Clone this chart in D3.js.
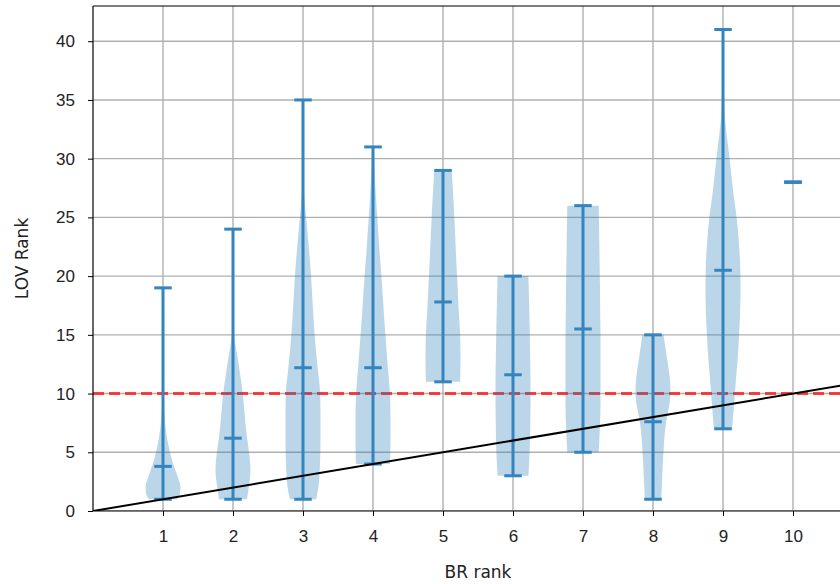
<!DOCTYPE html>
<html>
<head>
<meta charset="utf-8">
<title>LOV Rank vs BR rank</title>
<script src="https://cdn.jsdelivr.net/npm/d3@7"></script>
<style>
  body{margin:0;background:#fff;}
  svg{display:block;font-family:"DejaVu Sans",sans-serif;}
  .tick text{font-size:17px;fill:#222;}
</style>
</head>
<body>
<div id="chart"></div>
<script>
// BR rank positions
var ranks = [1,2,3,4,5,6,7,8,9,10];
// extrema and middle marks of each violin (LOV rank)
var mins = [1, 1, 1, 4, 11, 3, 5, 1, 7, 28];
var maxs = [19, 24, 35, 31, 29, 20, 26, 15, 41, 28];
var mids = [3.8, 6.2, 12.2, 12.2, 17.8, 11.6, 15.5, 7.6, 20.5, 28];
// violin outlines: [LOV rank, half width as share of max]
var shapes = [
  [[1,0.8],[1.5,0.97],[2,1.0],[3,0.82],[4,0.58],[5,0.4],[6,0.26],[7,0.16],[8,0.09],[9,0.05],[10,0.02],[11,0.005],[19,0]],
  [[1,0.8],[2,0.9],[3.5,1.0],[5,0.92],[6.5,0.78],[8,0.68],[10,0.56],[11.5,0.42],[13,0.27],[14.5,0.1],[16,0.02],[18,0.005],[24,0]],
  [[1,0.75],[2,0.88],[4,0.97],[6,1.0],[8,1.0],[10,0.98],[12,0.85],[14,0.72],[16,0.62],[18,0.54],[20,0.46],[22,0.36],[24,0.24],[26,0.12],[28,0.04],[30,0.01],[35,0]],
  [[4,0.97],[6,1.0],[8,1.0],[10,0.97],[12,0.86],[14,0.76],[16,0.66],[18,0.57],[20,0.48],[22,0.38],[24,0.29],[26,0.2],[28,0.12],[30,0.06],[31,0.04]],
  [[11,0.98],[13,1.0],[15,0.98],[17,0.9],[19,0.84],[21,0.77],[23,0.71],[25,0.65],[27,0.58],[29,0.5]],
  [[3,0.88],[5,0.95],[7,0.98],[9,1.0],[11,1.0],[13,0.98],[15,0.96],[17,0.93],[19,0.9],[20,0.88]],
  [[5,0.9],[7,0.96],[9,1.0],[11,1.0],[13,1.0],[15,1.0],[17,0.98],[19,0.97],[21,0.95],[23,0.93],[25,0.91],[26,0.9]],
  [[1,0.47],[2,0.5],[3,0.53],[4,0.56],[5,0.6],[6,0.64],[7,0.7],[8,0.8],[9,0.93],[10,1.0],[11,0.98],[12,0.9],[13,0.8],[14,0.7],[15,0.6]],
  [[7,0.52],[9,0.63],[11,0.73],[13,0.84],[15,0.92],[17,0.98],[19,1.0],[21,0.98],[23,0.9],[25,0.78],[27,0.6],[29,0.45],[31,0.3],[33,0.14],[35,0.06],[37,0.02],[41,0.005]],
  []
];
var yTicks = [0,5,10,15,20,25,30,35,40];
var threshold = 10;

var width = 840, height = 584;
var margin = {top: 6, left: 93, bottom: 73};
var plotH = height - margin.top - margin.bottom;

var x = d3.scaleLinear().domain([0, 11]).range([margin.left, margin.left + 770]);
var y = d3.scaleLinear().domain([0, 43]).range([margin.top + plotH, margin.top]);

var svg = d3.select("#chart").append("svg")
  .attr("width", width)
  .attr("height", height);

svg.append("clipPath").attr("id","clip")
  .append("rect")
  .attr("x", margin.left).attr("y", margin.top)
  .attr("width", 770).attr("height", plotH);

var plot = svg.append("g").attr("clip-path","url(#clip)");

//grid
plot.selectAll(".vgrid").data(ranks).enter().append("line")
  .attr("x1", function(d){return x(d);}).attr("x2", function(d){return x(d);})
  .attr("y1", margin.top).attr("y2", margin.top + plotH)
  .attr("stroke","#b0b0b0").attr("stroke-width",1.4);
plot.selectAll(".hgrid").data(yTicks).enter().append("line")
  .attr("x1", margin.left).attr("x2", margin.left + 770)
  .attr("y1", function(d){return y(d);}).attr("y2", function(d){return y(d);})
  .attr("stroke","#b0b0b0").attr("stroke-width",1.4);

//threshold line
plot.append("line")
  .attr("x1", x(0)).attr("x2", x(11))
  .attr("y1", y(threshold)).attr("y2", y(threshold))
  .attr("stroke","#f22").attr("stroke-opacity",0.85)
  .attr("stroke-width",3).attr("stroke-dasharray","11,5");

//violins
var halfW = x(0.25) - x(0);
var capW = x(0.125) - x(0);
var blue = "#1f77b4";
var lineCol = "#3384bf";

ranks.forEach(function(r, i){
  var g = plot.append("g");
  if (shapes[i].length) {
    var area = d3.area()
      .curve(d3.curveMonotoneY)
      .y(function(d){return y(d[0]);})
      .x0(function(d){return x(r) - d[1]*halfW;})
      .x1(function(d){return x(r) + d[1]*halfW;});
    g.append("path").attr("d", area(shapes[i]))
      .attr("fill", blue).attr("fill-opacity",0.3);
  }
  g.append("line")
    .attr("x1", x(r)).attr("x2", x(r))
    .attr("y1", y(mins[i])).attr("y2", y(maxs[i]))
    .attr("stroke", lineCol).attr("stroke-width",3);
  [mins[i], maxs[i], mids[i]].forEach(function(v){
    g.append("line")
      .attr("x1", x(r) - capW).attr("x2", x(r) + capW)
      .attr("y1", y(v)).attr("y2", y(v))
      .attr("stroke", lineCol).attr("stroke-width",3);
  });
});

//y = x reference line
plot.append("line")
  .attr("x1", x(0)).attr("y1", y(0))
  .attr("x2", x(11)).attr("y2", y(11))
  .attr("stroke","#000").attr("stroke-width",2);

//axes
var xAxis = svg.append("g")
  .attr("transform","translate(0,"+(margin.top+plotH)+")")
  .call(d3.axisBottom(x).tickValues(ranks).tickSize(5).tickPadding(14));
var yAxis = svg.append("g")
  .attr("transform","translate("+margin.left+",0)")
  .call(d3.axisLeft(y).tickValues(yTicks).tickSize(5).tickPadding(13));
xAxis.select(".domain").remove();
yAxis.select(".domain").remove();

//spines
svg.append("line").attr("x1",margin.left).attr("x2",width)
  .attr("y1",margin.top+plotH).attr("y2",margin.top+plotH)
  .attr("stroke","#000").attr("stroke-width",1.2);
svg.append("line").attr("x1",margin.left).attr("x2",width)
  .attr("y1",margin.top).attr("y2",margin.top)
  .attr("stroke","#000").attr("stroke-width",1.2);
svg.append("line").attr("x1",margin.left).attr("x2",margin.left)
  .attr("y1",margin.top).attr("y2",margin.top+plotH)
  .attr("stroke","#000").attr("stroke-width",1.2);

//axis titles
svg.append("text")
  .attr("x", x(5.5)).attr("y", 578)
  .attr("text-anchor","middle")
  .style("font-size","17px").style("fill","#222")
  .text("BR rank");
svg.append("text")
  .attr("transform","translate(28,"+(margin.top+plotH/2)+") rotate(-90)")
  .attr("text-anchor","middle")
  .style("font-size","17px").style("fill","#222")
  .text("LOV Rank");
</script>
</body>
</html>
